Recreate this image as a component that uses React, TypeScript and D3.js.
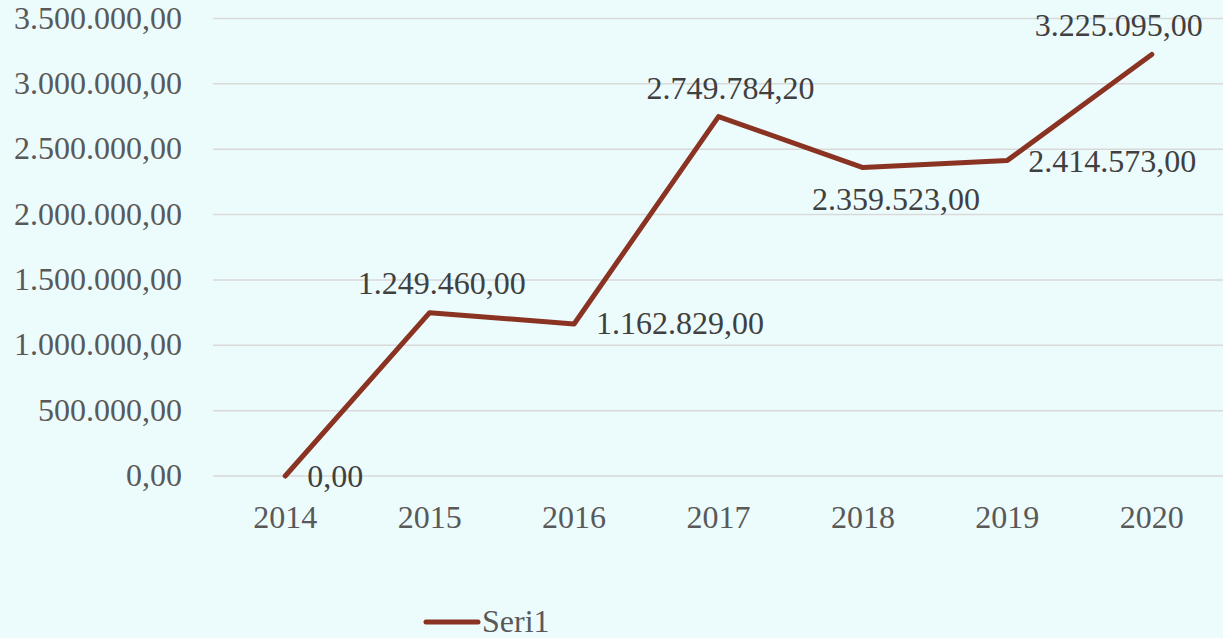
import React from "react";
import * as d3 from "d3";

const years = ["2014", "2015", "2016", "2017", "2018", "2019", "2020"];
const values = [0, 1249460, 1162829, 2749784.2, 2359523, 2414573, 3225095];
const yTicks = [0, 500000, 1000000, 1500000, 2000000, 2500000, 3000000, 3500000];
const seriesName = "Seri1";

// label placement offsets (style, relative to each point)
const labelOffsets = [
  [50, 11],
  [12, -19],
  [106, 10],
  [12, -18],
  [33, 42],
  [105, 12],
  [-33, -18],
];

const W = 1223;
const H = 638;
const FONT = "'Liberation Serif', 'Times New Roman', serif";
const FS = 32;

const fmt = (v: number) => {
  const parts = v.toFixed(2).split(".");
  const intPart = parts[0].replace(/\B(?=(\d{3})+(?!\d))/g, ".");
  return intPart + "," + parts[1];
};

export default function App() {
  const x = d3.scaleBand<string>().domain(years).range([213, 1224]).padding(0);
  const y = d3.scaleLinear().domain([0, 3500000]).range([476, 18.5]);
  const cx = (d: string) => (x(d) as number) + x.bandwidth() / 2;

  const line = d3
    .line<number>()
    .x((_, i) => cx(years[i]))
    .y((d) => y(d));

  return (
    <svg
      width={W}
      height={H}
      style={{ position: "absolute", left: 0, top: 0, display: "block" }}
    >
      <rect x={0} y={0} width={W} height={H} fill="#ECFBFB" />
      {yTicks.map((t) => (
        <g key={t}>
          <line x1={213} x2={1223} y1={y(t)} y2={y(t)} stroke="#D9D9D9" strokeWidth={1.5} />
          <text
            x={182}
            y={y(t) + 10}
            textAnchor="end"
            fontFamily={FONT}
            fontSize={FS}
            fill="#595959"
          >
            {fmt(t)}
          </text>
        </g>
      ))}
      {years.map((yr) => (
        <text
          key={yr}
          x={cx(yr)}
          y={528}
          textAnchor="middle"
          fontFamily={FONT}
          fontSize={FS}
          fill="#595959"
        >
          {yr}
        </text>
      ))}
      <path
        d={line(values) || ""}
        fill="none"
        stroke="#8A3322"
        strokeWidth={5}
        strokeLinecap="round"
        strokeLinejoin="round"
      />
      {values.map((v, i) => (
        <text
          key={i}
          x={cx(years[i]) + labelOffsets[i][0]}
          y={y(v) + labelOffsets[i][1]}
          textAnchor="middle"
          fontFamily={FONT}
          fontSize={FS}
          fill="#404040"
        >
          {fmt(v)}
        </text>
      ))}
      <line x1={426} x2={478} y1={622} y2={622} stroke="#8A3322" strokeWidth={5} strokeLinecap="round" />
      <text x={482} y={632} fontFamily={FONT} fontSize={FS} fill="#595959">
        {seriesName}
      </text>
    </svg>
  );
}
